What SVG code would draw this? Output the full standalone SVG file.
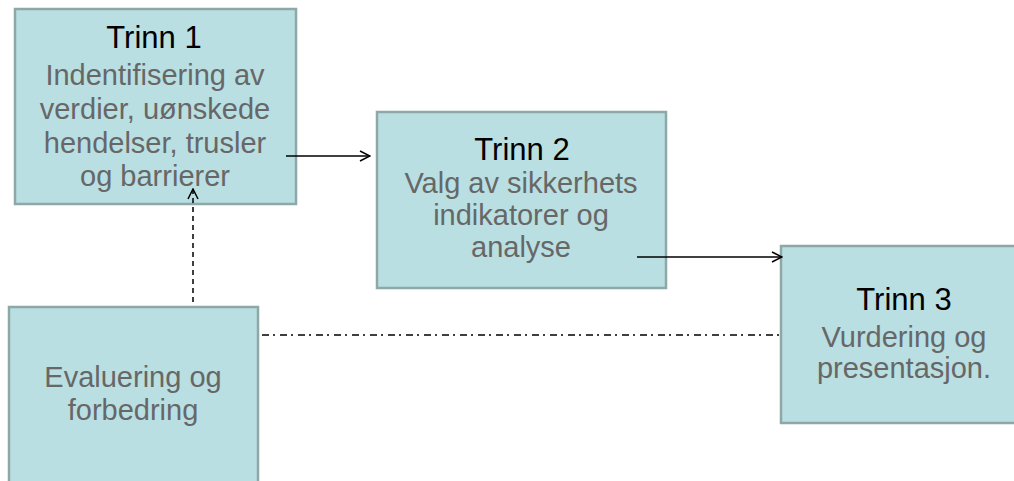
<svg xmlns="http://www.w3.org/2000/svg" width="1014" height="481" viewBox="0 0 1014 481">
  <style>
    .box { fill: #b9dfe2; stroke: #8ea8a8; stroke-width: 2.5; }
    .title { font-family: "Liberation Sans", Arial, sans-serif; font-size: 31px; fill: #000; text-anchor: middle; }
    .body { font-family: "Liberation Sans", Arial, sans-serif; font-size: 29px; fill: #676767; text-anchor: middle; }
    .link { fill: none; stroke: #000; stroke-width: 1.5; }
    .dashed { stroke-dasharray: 5 4; }
    .dashdot { stroke-dasharray: 7 4 2 5; }
  </style>
  <defs>
    <marker id="open-arrow" viewBox="0 0 12 12" refX="11" refY="6" markerWidth="12" markerHeight="12" markerUnits="userSpaceOnUse" orient="auto">
      <path d="M1,1 L11,6 L1,11" fill="none" stroke="#000" stroke-width="1.5"/>
    </marker>
  </defs>

  <rect width="1014" height="481" fill="#ffffff"/>

  <g id="trinn1">
    <rect class="box" x="15" y="9" width="281" height="195"/>
    <text class="title" x="154" y="48">Trinn 1</text>
    <text class="body" x="155" y="85">Indentifisering av</text>
    <text class="body" x="155" y="119">verdier, uønskede</text>
    <text class="body" x="155" y="153">hendelser, trusler</text>
    <text class="body" x="155" y="186">og barrierer</text>
  </g>

  <g id="trinn2">
    <rect class="box" x="377" y="112" width="289" height="176"/>
    <text class="title" x="522" y="160">Trinn 2</text>
    <text class="body" x="521" y="193">Valg av sikkerhets</text>
    <text class="body" x="521" y="225">indikatorer og</text>
    <text class="body" x="521" y="257">analyse</text>
  </g>

  <g id="trinn3">
    <rect class="box" x="781" y="246" width="246" height="177"/>
    <text class="title" x="904" y="310">Trinn 3</text>
    <text class="body" x="904" y="347">Vurdering og</text>
    <text class="body" x="904" y="378">presentasjon.</text>
  </g>

  <g id="evaluering">
    <rect class="box" x="9" y="307" width="249" height="190"/>
    <text class="body" x="133" y="387">Evaluering og</text>
    <text class="body" x="133" y="420">forbedring</text>
  </g>

  <g id="connectors">
    <line class="link" x1="286" y1="156" x2="370" y2="156" marker-end="url(#open-arrow)"/>
    <line class="link" x1="637" y1="257" x2="782" y2="257" marker-end="url(#open-arrow)"/>
    <line class="link dashed" x1="193" y1="302" x2="193" y2="189" marker-end="url(#open-arrow)"/>
    <line class="link dashdot" x1="262" y1="335" x2="781" y2="335"/>
  </g>
</svg>
